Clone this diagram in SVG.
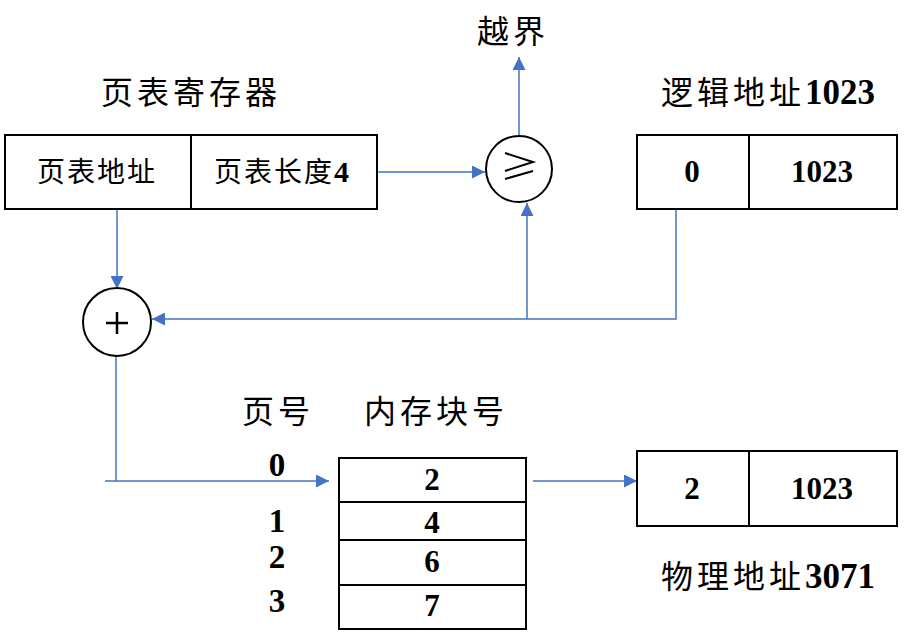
<svg xmlns="http://www.w3.org/2000/svg" width="908" height="637" viewBox="0 0 908 637">
<defs>
<style>
.box{fill:#fff;stroke:#000;stroke-width:2}
.div{stroke:#000;stroke-width:2}
.conn{fill:none;stroke:#4472C4;stroke-width:1.5}
.cjk{font-family:"Liberation Serif","Noto Sans CJK SC",serif;fill:#000}
.num{font-family:"Liberation Serif",serif;font-weight:bold;fill:#000}
.h{font-size:32px;letter-spacing:4px}
.b{font-size:28px;letter-spacing:2px}
.n{font-size:31px;text-anchor:middle}
.lbl{font-size:33px;text-anchor:middle}
</style>
<marker id="arr" markerUnits="userSpaceOnUse" markerWidth="13" markerHeight="13" viewBox="0 0 12 12" refX="12" refY="6" orient="auto">
<path d="M0,0 L12,6 L0,12 Z" fill="#4472C4"/>
</marker>
</defs>
<rect width="908" height="637" fill="#fff"/>

<g id="connectors">
<line class="conn" x1="378" y1="172" x2="485" y2="172" marker-end="url(#arr)"/>
<line class="conn" x1="519" y1="136" x2="519" y2="57" marker-end="url(#arr)"/>
<line class="conn" x1="117" y1="209" x2="117" y2="289" marker-end="url(#arr)"/>
<polyline class="conn" points="676,210 676,319 152,319" marker-end="url(#arr)"/>
<line class="conn" x1="527" y1="319" x2="527" y2="203" marker-end="url(#arr)"/>
<line class="conn" x1="116" y1="356" x2="116" y2="481"/>
<line class="conn" x1="105" y1="481" x2="329" y2="481" marker-end="url(#arr)"/>
<line class="conn" x1="533" y1="481" x2="637" y2="481" marker-end="url(#arr)"/>
</g>

<g id="overflow-label">
<text class="cjk h" x="477" y="43">越界</text>
</g>

<g id="page-table-register">
<text class="cjk h" x="101" y="104">页表寄存器</text>
<rect class="box" x="5" y="135" width="372" height="74"/>
<line class="div" x1="191" y1="135" x2="191" y2="209"/>
<text class="cjk b" x="37" y="182">页表地址</text>
<text class="cjk b" x="214" y="182">页表长度<tspan class="num" style="letter-spacing:0;font-size:30px">4</tspan></text>
</g>

<g id="comparator">
<circle cx="519" cy="169" r="33" fill="#fff" stroke="#000" stroke-width="2"/>
<path d="M505,153 L533,162 L505,171 M505,179 L533,171" fill="none" stroke="#000" stroke-width="2"/>
</g>

<g id="logical-address">
<text class="cjk h" x="661" y="104">逻辑地址<tspan class="num" style="letter-spacing:0;font-size:35px">1023</tspan></text>
<rect class="box" x="637" y="135" width="260" height="74"/>
<line class="div" x1="749" y1="135" x2="749" y2="209"/>
<text class="num n" x="692" y="182">0</text>
<text class="num n" x="822" y="182">1023</text>
</g>

<g id="adder">
<circle cx="117" cy="322" r="34" fill="#fff" stroke="#000" stroke-width="2"/>
<path d="M106,323 H128 M117,312 V334" stroke="#000" stroke-width="2.5"/>
</g>

<g id="page-table">
<text class="cjk h" x="242" y="423">页号</text>
<text class="cjk h" x="364" y="423">内存块号</text>
<rect class="box" x="339" y="458" width="187" height="171"/>
<line class="div" x1="339" y1="502" x2="526" y2="502"/>
<line class="div" x1="339" y1="540" x2="526" y2="540"/>
<line class="div" x1="339" y1="585" x2="526" y2="585"/>
<text class="num n" x="432" y="490">2</text>
<text class="num n" x="432" y="533">4</text>
<text class="num n" x="432" y="572">6</text>
<text class="num n" x="432" y="616">7</text>
<text class="num lbl" x="277" y="476">0</text>
<text class="num lbl" x="277" y="532">1</text>
<text class="num lbl" x="277" y="568">2</text>
<text class="num lbl" x="277" y="612">3</text>
</g>

<g id="physical-address">
<rect class="box" x="637" y="451" width="260" height="75"/>
<line class="div" x1="749" y1="451" x2="749" y2="526"/>
<text class="num n" x="692" y="499">2</text>
<text class="num n" x="822" y="499">1023</text>
<text class="cjk h" x="661" y="588">物理地址<tspan class="num" style="letter-spacing:0;font-size:35px">3071</tspan></text>
</g>
</svg>
